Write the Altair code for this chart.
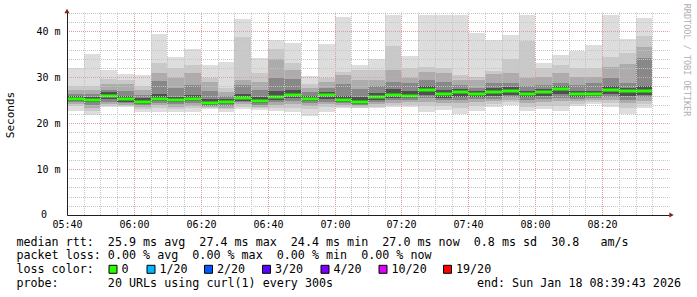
import altair as alt
import pandas as pd

# ---------------- data ----------------
times = ["05:40", "05:45", "05:50", "05:55", "06:00", "06:05", "06:10", "06:15", "06:20",
         "06:25", "06:30", "06:35", "06:40", "06:45", "06:50", "06:55", "07:00", "07:05",
         "07:10", "07:15", "07:20", "07:25", "07:30", "07:35", "07:40", "07:45", "07:50",
         "07:55", "08:00", "08:05", "08:10", "08:15", "08:20", "08:25", "08:30"]
ends = times[1:] + ["08:35"]

median = [25.3, 25.1, 26.0, 25.2, 24.7, 25.3, 25.0, 25.3, 24.4, 24.6, 25.4, 24.9, 25.7, 26.2,
          25.3, 26.1, 25.1, 24.7, 25.6, 26.2, 26.0, 27.2, 26.3, 26.7, 26.4, 26.8, 27.0, 26.4,
          26.8, 27.4, 26.3, 26.4, 27.2, 26.9, 27.0]

# smoke bands: pairs of sorted ping values, outermost first
hi1 = [32.0, 35.1, 31.6, 30.7, 30.4, 39.4, 34.5, 36.1, 32.7, 33.4, 42.7, 34.1, 38.0, 37.5,
       30.3, 37.3, 43.2, 32.7, 33.9, 43.6, 34.6, 43.6, 43.6, 43.6, 39.7, 38.0, 39.2, 43.6,
       33.2, 34.9, 35.8, 37.0, 43.6, 38.3, 43.0]
lo1 = [22.7, 21.8, 23.5, 23.5, 22.4, 22.4, 22.5, 22.4, 23.0, 22.4, 23.0, 22.9, 22.7, 22.5,
       21.6, 22.5, 23.2, 23.2, 23.2, 23.5, 23.6, 22.5, 22.9, 22.1, 22.7, 23.6, 24.0, 22.7,
       23.0, 22.7, 23.7, 24.2, 23.6, 21.9, 23.2]
hi2 = [28.1, 28.1, 29.7, 29.4, 28.1, 33.0, 32.0, 32.7, 29.8, 27.6, 38.7, 30.9, 36.1, 33.0,
       28.5, 29.8, 31.2, 31.6, 31.6, 36.8, 32.0, 32.3, 32.0, 30.5, 30.0, 31.4, 33.9, 37.8,
       32.0, 32.7, 32.0, 32.0, 34.5, 35.2, 38.9]
lo2 = [23.7, 22.6, 23.8, 23.7, 23.0, 23.3, 23.1, 23.2, 23.2, 23.0, 23.6, 23.2, 23.4, 23.4,
       23.0, 23.6, 23.6, 23.4, 23.6, 24.0, 24.0, 23.8, 23.7, 23.2, 23.8, 24.2, 24.6, 23.5,
       23.8, 23.8, 24.2, 24.6, 24.3, 23.2, 24.1]
hi3 = [27.2, 27.3, 28.5, 28.5, 27.3, 31.0, 29.8, 30.9, 29.0, 26.8, 29.4, 29.0, 33.9, 31.5,
       27.6, 29.0, 30.5, 29.5, 29.4, 31.6, 29.8, 31.2, 30.9, 29.4, 29.4, 30.7, 30.9, 29.8,
       30.1, 31.0, 30.0, 30.0, 32.3, 32.9, 36.5]
lo3 = [24.1, 23.3, 24.2, 24.0, 23.5, 23.9, 23.6, 23.8, 23.5, 23.4, 24.1, 23.6, 24.0, 24.2,
       23.8, 24.2, 24.0, 23.7, 24.1, 24.4, 24.5, 24.6, 24.4, 24.3, 24.6, 24.8, 25.1, 24.3,
       24.6, 24.8, 24.8, 25.1, 25.0, 24.3, 24.9]
hi4 = [26.4, 26.4, 27.2, 27.0, 26.2, 29.2, 27.6, 28.3, 27.0, 26.0, 28.3, 27.2, 29.8, 29.6,
       26.7, 27.6, 28.5, 27.4, 28.1, 29.0, 28.7, 29.4, 29.0, 28.3, 27.6, 28.7, 28.7, 28.0,
       28.3, 28.7, 28.3, 28.7, 29.8, 28.8, 34.1]
lo4 = [24.5, 24.0, 24.7, 24.3, 23.9, 24.4, 24.1, 24.3, 23.7, 23.8, 24.5, 24.0, 24.5, 24.8,
       24.4, 24.7, 24.3, 24.0, 24.5, 25.0, 25.0, 25.4, 25.0, 25.1, 25.2, 25.3, 25.6, 25.0,
       25.3, 25.5, 25.3, 25.5, 25.7, 25.1, 25.6]
hi5 = [26.0, 25.8, 26.7, 26.0, 25.4, 26.4, 25.8, 26.2, 25.2, 25.3, 26.4, 25.8, 26.9, 27.2,
       26.0, 26.7, 26.0, 25.6, 26.6, 27.4, 26.9, 28.0, 27.3, 27.5, 27.1, 27.6, 27.8, 27.1,
       27.5, 28.0, 27.0, 27.1, 28.0, 27.7, 28.0]
lo5 = [24.9, 24.5, 25.3, 24.7, 24.2, 24.8, 24.5, 24.8, 23.9, 24.1, 24.9, 24.4, 25.0, 25.4,
       24.8, 25.3, 24.6, 24.2, 25.0, 25.5, 25.4, 26.1, 25.5, 25.8, 25.7, 25.9, 26.1, 25.7,
       25.9, 26.3, 25.8, 25.9, 26.3, 25.9, 26.2]

loss_labels = ["0", "1/20", "2/20", "3/20", "4/20", "10/20", "19/20"]
loss_colors = ["#26ff00", "#00b8ff", "#0059ff", "#5e00ff", "#7e00ff", "#dd00ff", "#ff0000"]

line1 = "median rtt:  25.9 ms avg  27.4 ms max  24.4 ms min  27.0 ms now  0.8 ms sd  30.8   am/s"
line2 = "packet loss: 0.00 % avg  0.00 % max  0.00 % min  0.00 % now"
line3 = "loss color:"
line4 = "probe:       20 URLs using curl(1) every 300s"
end_text = "end: Sun Jan 18 08:39:43 2026"

# ---------------- styling ----------------
FONT = "DejaVu Sans Mono"
W, H = 602, 203
NB = "\u00a0"
smoke_colors = ["#dddddd", "#c9c9c9", "#acacac", "#888888", "#505050"]
MINOR = "#c4c4c4"
MAJOR = "#e69a9a"


def ts(hm):
    return "2026-01-18T" + hm + ":00"


def dt(h, m):
    return alt.DateTime(year=2026, month=1, date=18, hours=h, minutes=m)


xscale = alt.Scale(domain=[dt(5, 40), dt(8, 40)], round=True)
yscale = alt.Scale(domain=[0, 44.2], nice=False, zero=True, round=True)

major_x = [dt(5 + (40 + 20 * k) // 60, (40 + 20 * k) % 60) for k in range(9)]
minor_x = []
for k in range(1, 36):
    mins = 40 + 5 * k
    if (mins - 40) % 20 != 0:
        minor_x.append(dt(5 + mins // 60, mins % 60))
minor_y = [v for v in range(2, 45, 2) if v % 10 != 0]

grid_common = dict(grid=True, gridDash=[1, 1], gridDashOffset=0.5, gridWidth=1, zindex=1,
                   title=None, ticks=False)
axis_x_minor = alt.Axis(values=minor_x, gridColor=MINOR, labels=False, domain=False,
                        orient="bottom", **grid_common)
axis_y_minor = alt.Axis(values=minor_y, gridColor=MINOR, labels=False, domain=False,
                        orient="left", **grid_common)
axis_x_major = alt.Axis(values=major_x, format="%H:%M", gridColor=MAJOR, labelFont=FONT,
                        labelFontSize=10, labelColor="black", labelPadding=4,
                        labelFlush=False, labelOverlap=False, domainColor="#1f1f1f",
                        domainWidth=1, orient="bottom", **grid_common)
axis_y_major = alt.Axis(values=[0, 10, 20, 30, 40],
                        labelExpr="datum.value == 0 ? '' : datum.value + ' m'",
                        gridColor=MAJOR, labelFont=FONT, labelFontSize=10,
                        labelColor="black", labelPadding=7, labelFlush=False,
                        domainColor="#1f1f1f", domainWidth=1, orient="left", **grid_common)

start_ts = [ts(t) for t in times]
end_ts = [ts(t) for t in ends]

bands = [(lo1, hi1), (lo2, hi2), (lo3, hi3), (lo4, hi4), (lo5, hi5)]
layers = []
for i, ((lo, hi), col) in enumerate(zip(bands, smoke_colors)):
    df = pd.DataFrame({"t0": start_ts, "t1": end_ts, "lo": lo, "hi": hi})
    if i == 0:
        ax, ay = axis_x_minor, axis_y_minor
    elif i == 1:
        ax, ay = axis_x_major, axis_y_major
    else:
        ax, ay = None, None
    layers.append(
        alt.Chart(df).mark_rect(color=col, clip=True).encode(
            x=alt.X("t0:T", scale=xscale, axis=ax),
            x2="t1:T",
            y=alt.Y("lo:Q", scale=yscale, axis=ay),
            y2="hi:Q",
        )
    )

med_df = pd.DataFrame({"t0": start_ts, "t1": end_ts, "median": median})
layers.append(
    alt.Chart(med_df).mark_rule(color=loss_colors[0], strokeWidth=3, clip=True).encode(
        x=alt.X("t0:T", scale=xscale, axis=None),
        x2="t1:T",
        y=alt.Y("median:Q", scale=yscale, axis=None),
    )
)

one = pd.DataFrame({"a": [0]})


def text(s, x, y, align="left", size=11.7, color="black", angle=None):
    kw = dict(font=FONT, fontSize=size, color=color, align=align, baseline="middle")
    if angle is not None:
        kw["angle"] = angle
    return alt.Chart(one).mark_text(**kw).encode(
        x=alt.value(x), y=alt.value(y), text=alt.value(s.replace(" ", NB)))


# arrows
layers.append(alt.Chart(one).mark_point(shape="triangle-up", filled=True, size=26,
                                        color="#801f1f", opacity=1).encode(
    x=alt.value(0), y=alt.value(-1)))
layers.append(alt.Chart(one).mark_point(shape="triangle-right", filled=True, size=26,
                                        color="#801f1f", opacity=1).encode(
    x=alt.value(W + 2.5), y=alt.value(H)))

# zero label of the y axis (rrdtool pads it on the right)
layers.append(text("0", -20, H, align="right", size=10))

# axis title & watermark
layers.append(text("Seconds", -56.5, 103, align="center", size=11, angle=270))
layers.append(text("RRDTOOL / TOBI OETIKER", 619.5, 48, align="center", size=8.5,
                   color="#b0b0b0", angle=90))

# legend lines
LX = -50.6
layers.append(text(line1, LX, 229.7))
layers.append(text(line2, LX, 243.0))
layers.append(text(line3, LX, 257.3))
layers.append(text(line4, LX, 270.7))
layers.append(text(end_text, 614, 270.7, align="right"))

box_centers = [46, 84, 141.5, 199.5, 258, 316, 380.5]
for lab, col, bx in zip(loss_labels, loss_colors, box_centers):
    layers.append(alt.Chart(one).mark_point(shape="square", filled=True, size=64,
                                            fill=col, stroke="black", strokeWidth=1,
                                            opacity=1).encode(
        x=alt.value(bx), y=alt.value(257.3)))
    layers.append(text(lab, bx + 8.5, 257.3))

chart = alt.layer(*layers).resolve_axis(x="independent", y="independent").properties(
    width=W, height=H,
    padding={"left": 67, "top": 12, "right": 28, "bottom": 82},
    autosize=alt.AutoSizeParams(type="none"),
    background="white",
).configure_view(stroke=None)

chart.save("out.html", embed_options={"renderer": "svg", "actions": False})
